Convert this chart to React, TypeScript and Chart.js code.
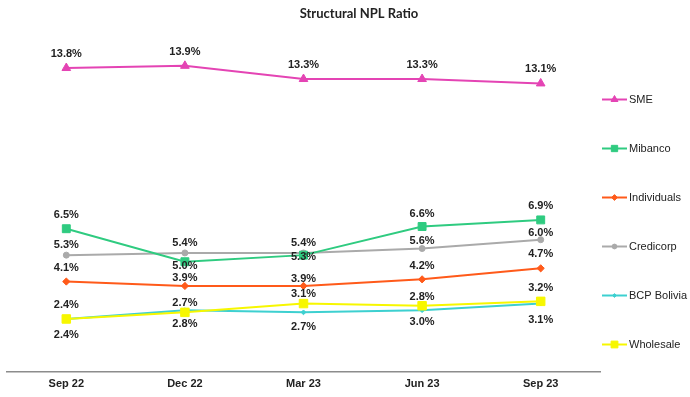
import React, { useEffect, useRef } from 'react';
import { Chart, registerables } from 'chart.js';
import { drawPoint } from 'chart.js/helpers';

Chart.register(...registerables);

const chartTitle = 'Structural NPL Ratio';
const categories = ['Sep 22', 'Dec 22', 'Mar 23', 'Jun 23', 'Sep 23'];
const seriesNames = ['SME', 'Mibanco', 'Individuals', 'Credicorp', 'BCP Bolivia', 'Wholesale'];
const sme = [13.8, 13.9, 13.3, 13.3, 13.1];
const mibanco = [6.5, 5.0, 5.3, 6.6, 6.9];
const individuals = [4.1, 3.9, 3.9, 4.2, 4.7];
const credicorp = [5.3, 5.4, 5.4, 5.6, 6.0];
const bcpBolivia = [2.4, 2.8, 2.7, 2.8, 3.1];
const wholesale = [2.4, 2.7, 3.1, 3.0, 3.2];

const seriesValues = [sme, mibanco, individuals, credicorp, bcpBolivia, wholesale];

// styling (colours, markers, label offsets in px relative to point)
const seriesStyles = [
  { color: '#E444B4', pointStyle: 'triangle', radius: 5, order: 0, labelOffsets: [-14, -14, -14, -14, -14] },
  { color: '#2FCB80', pointStyle: 'rect', radius: 5.6, order: 0, labelOffsets: [-14, 4, 2, -13, -14] },
  { color: '#FF5A1A', pointStyle: 'rectRot', radius: 3.6, order: 0, labelOffsets: [-14, -8, -7, -13, -14] },
  { color: '#AAAAAA', pointStyle: 'circle', radius: 3, order: 0, labelOffsets: [-10, -10, -10, -8, -7] },
  { color: '#3DD0D0', pointStyle: 'rectRot', radius: 2.4, order: 0, labelOffsets: [16, 14, 15, -13, 16] },
  { color: '#F7F700', pointStyle: 'rect', radius: 6, order: -1, labelOffsets: [-14, -9, -10, 16, -13] },
];

const FONT = '"Liberation Sans", Arial, sans-serif';

const dataLabels = {
  id: 'dataLabels',
  afterDatasetsDraw(chart: any) {
    const ctx = chart.ctx;
    ctx.save();
    ctx.font = `bold 11px ${FONT}`;
    ctx.fillStyle = '#222222';
    ctx.textAlign = 'center';
    ctx.textBaseline = 'middle';
    chart.data.datasets.forEach((ds: any, i: number) => {
      const meta = chart.getDatasetMeta(i);
      meta.data.forEach((pt: any, j: number) => {
        const v = ds.data[j];
        ctx.fillText(`${v.toFixed(1)}%`, pt.x, pt.y + ds.labelOffsets[j]);
      });
    });
    ctx.restore();
  },
};

const sideLegend = {
  id: 'sideLegend',
  afterDraw(chart: any) {
    const { ctx, chartArea } = chart;
    const x0 = chartArea.right + 2;
    chart.data.datasets.forEach((ds: any, i: number) => {
      const y = 99.5 + i * 49;
      ctx.save();
      ctx.strokeStyle = ds.borderColor;
      ctx.lineWidth = 2;
      ctx.beginPath();
      ctx.moveTo(x0, y);
      ctx.lineTo(x0 + 25, y);
      ctx.stroke();
      ctx.fillStyle = ds.pointBackgroundColor;
      ctx.strokeStyle = ds.borderColor;
      ctx.lineWidth = 1;
      drawPoint(ctx, { pointStyle: ds.pointStyle, radius: ds.pointRadius * 0.8, borderWidth: 1, rotation: 0 } as any, x0 + 12.5, y);
      ctx.fillStyle = '#222222';
      ctx.font = `11px ${FONT}`;
      ctx.textAlign = 'left';
      ctx.textBaseline = 'middle';
      ctx.fillText(ds.label, x0 + 27, y);
      ctx.restore();
    });
  },
};

export default function App() {
  const ref = useRef<HTMLCanvasElement | null>(null);

  useEffect(() => {
    if (!ref.current) return;
    const chart = new Chart(ref.current, {
      type: 'line',
      data: {
        labels: categories,
        datasets: seriesNames.map((name, i) => {
          const s = seriesStyles[i];
          return {
            label: name,
            data: seriesValues[i],
            borderColor: s.color,
            backgroundColor: s.color,
            pointBackgroundColor: s.color,
            pointBorderColor: s.color,
            pointStyle: s.pointStyle,
            pointRadius: s.radius,
            pointBorderWidth: 1,
            borderWidth: 2,
            tension: 0,
            fill: false,
            order: s.order,
            labelOffsets: s.labelOffsets,
          } as any;
        }),
      },
      options: {
        animation: false,
        responsive: false,
        maintainAspectRatio: false,
        layout: { padding: { left: 6, right: 0, top: 0, bottom: 0 } },
        scales: {
          x: {
            offset: true,
            grid: { display: false, drawTicks: false },
            border: { display: true, color: '#8C8C8C', width: 1.5 },
            ticks: { color: '#222222', padding: 6, font: { family: FONT, size: 11, weight: 'bold' } },
          },
          y: {
            position: 'right',
            min: 0,
            max: 15,
            grid: { display: false, drawTicks: false },
            border: { display: false },
            ticks: { display: false },
            afterFit: (scale: any) => {
              scale.width = 112;
            },
          },
        },
        plugins: {
          legend: { display: false },
          tooltip: { enabled: false },
          title: {
            display: true,
            text: chartTitle,
            color: '#222222',
            font: { family: 'Lato, "Liberation Sans", Arial, sans-serif', size: 13, weight: 'bold' },
            padding: { top: 6, bottom: 20 },
          },
        },
      } as any,
      plugins: [dataLabels, sideLegend],
    });
    return () => chart.destroy();
  }, []);

  return (
    <div style={{ position: 'absolute', left: 0, top: 0, width: 690, height: 397, overflow: 'hidden', background: '#ffffff' }}>
      <canvas ref={ref} width={712} height={397} style={{ display: 'block' }} />
    </div>
  );
}
